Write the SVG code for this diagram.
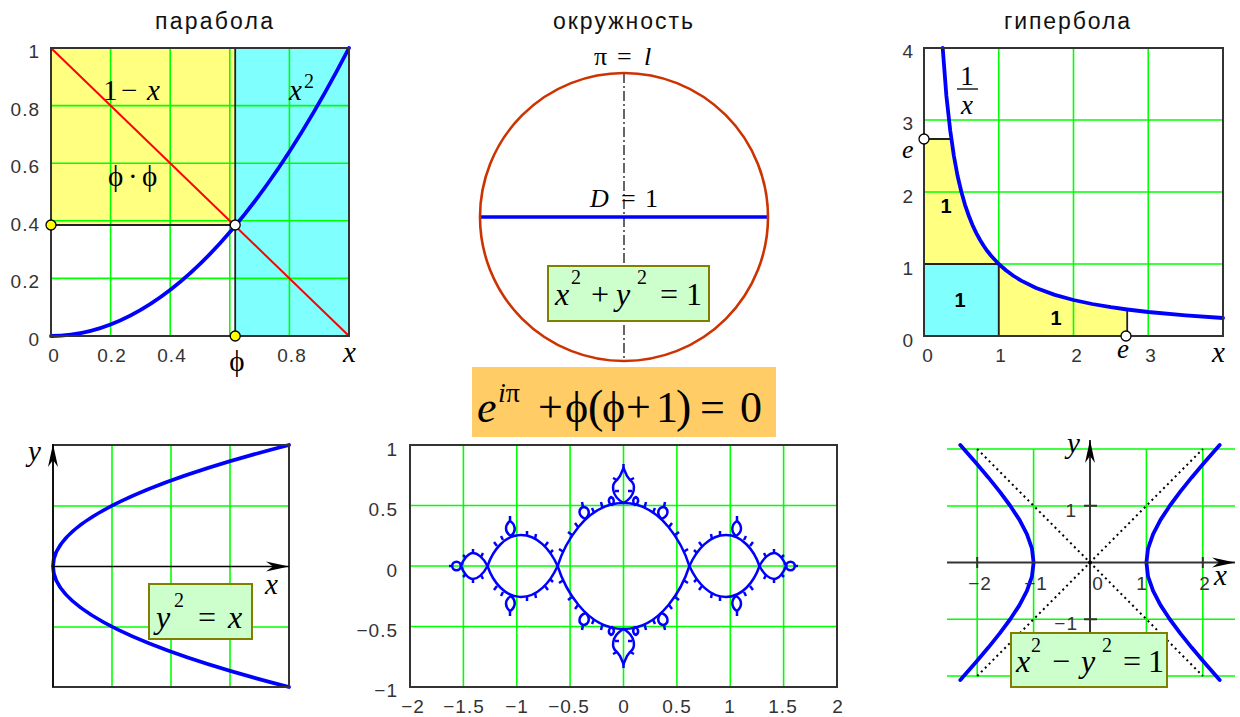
<svg xmlns="http://www.w3.org/2000/svg" xmlns:xlink="http://www.w3.org/1999/xlink" width="1240" height="717" viewBox="0 0 1240 717">
<style>
.grid{stroke:#00ff00;stroke-width:1.6;fill:none}
.frame{fill:none;stroke:#333;stroke-width:2}
.curve{fill:none;stroke:#0000ff;stroke-width:3.8;stroke-linejoin:round;stroke-linecap:round}
.frac{fill:none;stroke:#0000ff;stroke-width:2.5;stroke-linejoin:round}
.blk{stroke:#222;stroke-width:1.8;fill:none}
.t{font-family:"Liberation Sans",Arial,sans-serif;font-size:19px;fill:#333;letter-spacing:1px}
.title{font-family:"Liberation Sans",Arial,sans-serif;font-size:23px;fill:#111;text-anchor:middle}
.m{font-family:"Liberation Serif","Times New Roman",serif;font-size:29px;fill:#000}
.m26{font-size:26px}
.m27{font-size:27px}
.bx{font-size:32px}
.i{font-style:italic}
.sup{font-size:20px}
.bold{font-family:"Liberation Sans",Arial,sans-serif;font-size:20px;font-weight:bold;fill:#000;text-anchor:middle}
.pt{stroke:#000;stroke-width:1.3}
.box{fill:#ccffcc;stroke:#808000;stroke-width:2}
.end{text-anchor:end}
.mid{text-anchor:middle}
</style>
<defs>
<marker id="arr" viewBox="-24 -6 26 12" refX="0" refY="0" markerWidth="26" markerHeight="12" markerUnits="userSpaceOnUse" orient="auto">
<path d="M0,0 L-23,-5 L-16,0 L-23,5 Z" fill="#000"/>
</marker>
<g id="dec" class="frac">
<path d="M585.5,519 C578,516 578,509 583,507 C589,507 591,514 585.5,519 Z"/>
<path d="M583,507 L582,502"/>
<path d="M612,505 C608,503 608,499 611,497 C614,498 615,502 612,505 Z"/>
<path d="M572.4,535.3 L568,532 M602.4,507.6 L601,502 M563.3,551.8 L559,549 M594,512.5 L592,508 M578,527 L575,523"/>
<path d="M511,536 C504,532 505,525 510,521 C515,524 517,531 511,536 Z"/>
<path d="M510,521 L510,516"/>
<path d="M545,546 L548,542 M535,539 L536,534 M497,546 L494,542 M527,536 L527,531 M503,540 L501,536 M550,553 L553,550"/>
<path d="M473,553 L473,549 M481,557 L483,553 M466,558 L463,555"/>
<path d="M617,480 L613,478 M619,491 L615,491"/>
</g>
</defs>
<rect width="1240" height="717" fill="#ffffff"/>

<!-- Top-left: parabola -->
<g id="parabola-plot">
<text class="title" x="214" y="29" textLength="118">парабола</text>
<rect x="51" y="48" width="184.2" height="177" fill="#ffff80"/>
<rect x="235.2" y="48" width="113.8" height="288" fill="#80ffff"/>
<g class="grid">
<line x1="110.6" y1="48" x2="110.6" y2="336"/>
<line x1="170.2" y1="48" x2="170.2" y2="336"/>
<line x1="229.8" y1="48" x2="229.8" y2="336"/>
<line x1="289.4" y1="48" x2="289.4" y2="336"/>
<line x1="51" y1="105.6" x2="349" y2="105.6"/>
<line x1="51" y1="163.2" x2="349" y2="163.2"/>
<line x1="51" y1="220.8" x2="349" y2="220.8"/>
<line x1="51" y1="278.4" x2="349" y2="278.4"/>
</g>
<line class="blk" x1="235.2" y1="48" x2="235.2" y2="336"/>
<line class="blk" x1="51" y1="225" x2="235.2" y2="225"/>
<line x1="51" y1="48" x2="349" y2="336" stroke="#ff0000" stroke-width="2"/>
<path class="curve" d="M51,336 Q200,336 349,48"/>
<rect class="frame" x="51" y="48" width="298" height="288"/>
<circle class="pt" cx="51" cy="225" r="5" fill="#ffff00"/>
<circle class="pt" cx="235.2" cy="225" r="5" fill="#ffffff"/>
<circle class="pt" cx="235.2" cy="336" r="5" fill="#ffff00"/>
<text class="m" x="103" y="100">1</text>
<text class="m" x="121" y="100">−</text>
<text class="m i" x="147" y="100">x</text>
<text class="m i" x="289" y="100">x</text>
<text class="m sup" x="304" y="88">2</text>
<text class="m" x="108" y="186">ϕ</text>
<text class="m" x="128" y="186">·</text>
<text class="m" x="142" y="186">ϕ</text>
<g class="t end">
<text x="40" y="58">1</text>
<text x="40" y="116">0.8</text>
<text x="40" y="173">0.6</text>
<text x="40" y="231">0.4</text>
<text x="40" y="288">0.2</text>
<text x="40" y="346">0</text>
</g>
<g class="t mid">
<text x="54" y="362">0</text>
<text x="112" y="362">0.2</text>
<text x="172" y="362">0.4</text>
<text x="292" y="362">0.8</text>
</g>
<text class="m mid" x="237" y="371">ϕ</text>
<text class="m i" x="343" y="362">x</text>
</g>

<!-- Top-middle: circle -->
<g id="circle-plot">
<text class="title" x="623" y="29" textLength="140">окружность</text>
<text class="m m26" x="594" y="65">π</text>
<text class="m m26" x="617" y="65">=</text>
<text class="m m26 i" x="644" y="65">l</text>
<line x1="624" y1="73" x2="624" y2="361" stroke="#000" stroke-width="1.2" stroke-dasharray="10,3,2,3"/>
<line x1="480" y1="217" x2="768" y2="217" stroke="#0000ff" stroke-width="3.5"/>
<circle cx="624" cy="217" r="144" fill="none" stroke="#cc3300" stroke-width="2.6"/>
<text class="m m26 i" x="590" y="207">D</text>
<text class="m m26" x="621" y="207">=</text>
<text class="m m26" x="645" y="207">1</text>
<rect class="box" x="548" y="266" width="161" height="55"/>
<text class="m bx i" x="555" y="305">x</text>
<text class="m sup" x="571" y="284">2</text>
<text class="m bx" x="591" y="305">+</text>
<text class="m bx i" x="616" y="305">y</text>
<text class="m sup" x="637" y="284">2</text>
<text class="m bx" x="660" y="305">=</text>
<text class="m bx" x="686" y="305">1</text>
</g>

<!-- Formula -->
<g id="euler-formula">
<rect x="472" y="367" width="304" height="70" fill="#ffcc66"/>
<g font-family="Liberation Serif, Times New Roman, serif" fill="#000">
<text font-style="italic" x="477" y="422" font-size="44">e</text>
<text x="498" y="402" font-size="28"><tspan font-style="italic">i</tspan>π</text>
<text x="538" y="422" font-size="44">+</text>
<text x="565" y="422" font-size="44">ϕ</text>
<text x="588" y="422" font-size="46">(</text>
<text x="602" y="422" font-size="44">ϕ</text>
<text x="626" y="422" font-size="44">+</text>
<text x="656" y="422" font-size="44">1</text>
<text x="676" y="422" font-size="46">)</text>
<text x="700" y="422" font-size="44">=</text>
<text x="740" y="422" font-size="44">0</text>
</g>
</g>

<!-- Top-right: hyperbola 1/x -->
<g id="hyperbola-plot">
<text class="title" x="1067" y="29" textLength="126">гипербола</text>
<path d="M924,139 L951.3,139 L957.6,176 L965.1,205.1 L972.6,225.2 L980.1,240 L987.5,251.3 L991.3,256 L998.75,264 L924,264 Z" fill="#ffff80"/>
<path d="M998.75,336 L998.75,264 L1006.2,270.5 L1021.2,280.6 L1036.1,288 L1054.8,294.9 L1073.5,300 L1092.2,304 L1110.9,307.2 L1127.2,309.5 L1127.2,336 Z" fill="#ffff80"/>
<rect x="924" y="264" width="74.75" height="72" fill="#80ffff"/>
<g class="grid">
<line x1="998.75" y1="48" x2="998.75" y2="336"/>
<line x1="1073.5" y1="48" x2="1073.5" y2="336"/>
<line x1="1148.25" y1="48" x2="1148.25" y2="336"/>
<line x1="924" y1="120" x2="1223" y2="120"/>
<line x1="924" y1="192" x2="1223" y2="192"/>
<line x1="924" y1="264" x2="1223" y2="264"/>
</g>
<path class="blk" d="M924,264 L998.75,264 L998.75,336 M924,139 L951.3,139 M1127.2,309.5 L1127.2,336"/>
<polyline class="curve" points="942.7,48 946.4,96 950.2,130.3 953.9,156 957.6,176 961.4,192 965.1,205.1 968.9,216 972.6,225.2 976.3,233.1 980.1,240 983.8,246 987.5,251.3 991.3,256 998.75,264 1006.2,270.5 1013.7,276 1021.2,280.6 1036.1,288 1054.8,294.9 1073.5,300 1092.2,304 1110.9,307.2 1127.2,309.5 1148.25,312 1185.6,315.4 1223,318"/>
<rect class="frame" x="924" y="48" width="299" height="288"/>
<circle class="pt" cx="924" cy="139" r="5" fill="#ffffff"/>
<circle class="pt" cx="1126" cy="336" r="5" fill="#ffffff"/>
<text class="m m27 mid" x="967" y="85">1</text>
<line x1="957" y1="89" x2="978" y2="89" stroke="#000" stroke-width="1.3"/>
<text class="m m27 i mid" x="967" y="114">x</text>
<text class="bold" x="946" y="213">1</text>
<text class="bold" x="960" y="307">1</text>
<text class="bold" x="1056" y="325">1</text>
<text class="m m26 i" x="902" y="158">e</text>
<text class="m m27 i" x="1117" y="358">e</text>
<g class="t end">
<text x="914" y="58">4</text>
<text x="914" y="130">3</text>
<text x="914" y="203">2</text>
<text x="914" y="275">1</text>
<text x="914" y="347">0</text>
</g>
<g class="t mid">
<text x="928" y="362">0</text>
<text x="1001" y="362">1</text>
<text x="1077" y="362">2</text>
<text x="1151" y="362">3</text>
</g>
<text class="m i" x="1212" y="362">x</text>
</g>

<!-- Bottom-left: sideways parabola -->
<g id="parabola-xy">
<g class="grid">
<line x1="112" y1="445" x2="112" y2="687"/>
<line x1="171" y1="445" x2="171" y2="687"/>
<line x1="230" y1="445" x2="230" y2="687"/>
<line x1="53" y1="506" x2="289" y2="506"/>
<line x1="53" y1="627" x2="289" y2="627"/>
</g>
<path class="curve" d="M289,445 Q-183,566.5 289,687"/>
<rect class="frame" x="53" y="445" width="236" height="242"/>
<line x1="53" y1="566.5" x2="289" y2="566.5" stroke="#000" stroke-width="1.3" marker-end="url(#arr)"/>
<line x1="53" y1="687" x2="53" y2="444" stroke="#000" stroke-width="1.3" marker-end="url(#arr)"/>
<text class="m i" x="28" y="461">y</text>
<text class="m i" x="265" y="594">x</text>
<rect class="box" x="149" y="584" width="103" height="55"/>
<text class="m bx i" x="156" y="628">y</text>
<text class="m sup" x="174" y="607">2</text>
<text class="m bx" x="198" y="628">=</text>
<text class="m bx i" x="228" y="628">x</text>
</g>

<!-- Bottom-middle: fractal -->
<g id="fractal-plot">
<g class="grid">
<line x1="463.4" y1="445" x2="463.4" y2="687"/>
<line x1="516.8" y1="445" x2="516.8" y2="687"/>
<line x1="570.1" y1="445" x2="570.1" y2="687"/>
<line x1="623.5" y1="445" x2="623.5" y2="687"/>
<line x1="676.9" y1="445" x2="676.9" y2="687"/>
<line x1="730.3" y1="445" x2="730.3" y2="687"/>
<line x1="783.6" y1="445" x2="783.6" y2="687"/>
<line x1="410" y1="505.5" x2="837" y2="505.5"/>
<line x1="410" y1="566" x2="837" y2="566"/>
<line x1="410" y1="626.5" x2="837" y2="626.5"/>
</g>
<g class="frac">
<path d="M557.6,566 C564,546 585,503 623.5,503 C662,503 683,546 689.4,566 C683,586 662,629 623.5,629 C585,629 564,586 557.6,566 Z"/>
<path d="M623.5,503 C611,496 611,484 617,480 L620,476 L623.5,468 L627,476 L630,480 C636,484 636,496 623.5,503 Z"/>
<path d="M623.5,629 C611,636 611,648 617,652 L620,656 L623.5,664 L627,656 L630,652 C636,648 636,636 623.5,629 Z"/>
<path d="M689.4,566 C697,549 710,535 726,535 C742,535 754,550 759.5,566 C754,582 742,597 726,597 C710,597 697,583 689.4,566 Z"/>
<path d="M557.6,566 C550,549 537,535 521,535 C505,535 493,550 487.5,566 C493,582 505,597 521,597 C537,597 550,583 557.6,566 Z"/>
<path d="M759.5,566 C764,557 770,553 774,553 C779,553 784,560 786,566 C784,572 779,579 774,579 C770,579 764,575 759.5,566 Z"/>
<path d="M487.5,566 C483,557 477,553 473,553 C468,553 463,560 461,566 C463,572 468,579 473,579 C477,579 483,575 487.5,566 Z"/>
<circle cx="790.5" cy="566" r="4.3"/>
<circle cx="456.5" cy="566" r="4.3"/>
<path d="M623.5,468 L623.5,464 M623.5,664 L623.5,668 M452,566 L449,566 M795,566 L798,566"/>
</g>
<use xlink:href="#dec"/>
<use xlink:href="#dec" transform="matrix(-1,0,0,1,1247,0)"/>
<use xlink:href="#dec" transform="matrix(1,0,0,-1,0,1132)"/>
<use xlink:href="#dec" transform="matrix(-1,0,0,-1,1247,1132)"/>
<rect class="frame" x="410" y="445" width="427" height="242"/>
<g class="t end">
<text x="398" y="456">1</text>
<text x="398" y="516">0.5</text>
<text x="398" y="577">0</text>
<text x="398" y="637">−0.5</text>
<text x="398" y="697">−1</text>
</g>
<g class="t mid">
<text x="413" y="713">−2</text>
<text x="464" y="713">−1.5</text>
<text x="517" y="713">−1</text>
<text x="569" y="713">−0.5</text>
<text x="624" y="713">0</text>
<text x="677" y="713">0.5</text>
<text x="730" y="713">1</text>
<text x="783" y="713">1.5</text>
<text x="838" y="713">2</text>
</g>
</g>

<!-- Bottom-right: hyperbola x^2 - y^2 = 1 -->
<g id="hyperbola-xy">
<g class="grid">
<line x1="977.2" y1="449" x2="977.2" y2="676"/>
<line x1="1033.6" y1="449" x2="1033.6" y2="676"/>
<line x1="1146.4" y1="449" x2="1146.4" y2="676"/>
<line x1="1202.8" y1="449" x2="1202.8" y2="676"/>
<line x1="947" y1="449" x2="1235" y2="449"/>
<line x1="947" y1="506" x2="1235" y2="506"/>
<line x1="947" y1="619.25" x2="1235" y2="619.25"/>
<line x1="947" y1="676" x2="1235" y2="676"/>
</g>
<g stroke="#000" stroke-width="2" stroke-dasharray="2,3.5" fill="none">
<line x1="977.2" y1="676" x2="1202.8" y2="449"/>
<line x1="977.2" y1="449" x2="1202.8" y2="676"/>
</g>
<polyline class="curve" points="1219.7,445 1203.7,463.2 1191.7,477.4 1180.3,491.6 1169.8,505.75 1160.5,519.9 1153.1,534.1 1148.1,548.3 1146.4,562.5 1148.1,576.7 1153.1,590.9 1160.5,605.1 1169.8,619.25 1180.3,633.4 1191.7,647.6 1203.7,661.8 1219.7,680"/>
<polyline class="curve" points="960.3,445 976.3,463.2 988.3,477.4 999.7,491.6 1010.2,505.75 1019.5,519.9 1026.9,534.1 1031.9,548.3 1033.6,562.5 1031.9,576.7 1026.9,590.9 1019.5,605.1 1010.2,619.25 999.7,633.4 988.3,647.6 976.3,661.8 960.3,680"/>
<line x1="947" y1="562.5" x2="1235" y2="562.5" stroke="#333" stroke-width="2" marker-end="url(#arr)"/>
<line x1="1090" y1="676" x2="1090" y2="440" stroke="#333" stroke-width="2" marker-end="url(#arr)"/>
<path d="M977.2,557 L977.2,568 M1202.8,557 L1202.8,568 M1084,505.75 L1097,505.75 M1084,619.25 L1097,619.25" stroke="#333" stroke-width="2"/>
<circle cx="1090" cy="562.5" r="2" fill="#000"/>
<text class="m i" x="1067" y="453">y</text>
<text class="m i" x="1214" y="585">x</text>
<g class="t end">
<text x="1077" y="517">1</text>
<text x="1078" y="630">−1</text>
</g>
<g class="t mid">
<text x="980" y="590">−2</text>
<text x="1036" y="590">−1</text>
<text x="1098" y="590">0</text>
<text x="1142" y="590">1</text>
<text x="1205" y="590">2</text>
</g>
<rect class="box" x="1011" y="633" width="156" height="54"/>
<text class="m bx i" x="1016" y="672">x</text>
<text class="m sup" x="1031" y="652">2</text>
<text class="m bx" x="1052" y="672">−</text>
<text class="m bx i" x="1081" y="672">y</text>
<text class="m sup" x="1102" y="652">2</text>
<text class="m bx" x="1123" y="672">=</text>
<text class="m bx" x="1148" y="672">1</text>
</g>
</svg>
